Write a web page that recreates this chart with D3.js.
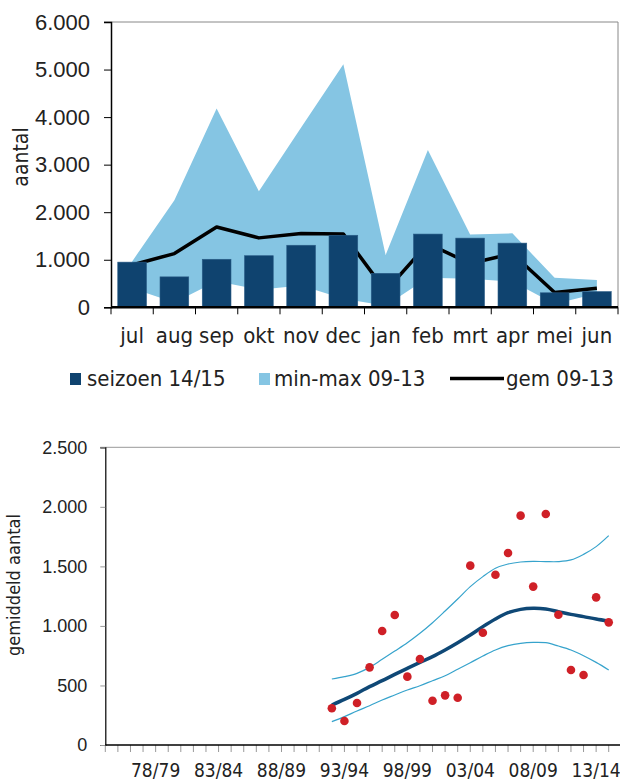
<!DOCTYPE html>
<html>
<head>
<meta charset="utf-8">
<script src="https://cdn.jsdelivr.net/npm/d3@7"></script>
<style>
  html, body { margin: 0; padding: 0; background: #fff; }
  svg { display: block; font-family: 'DejaVu Sans Condensed', 'DejaVu Sans', sans-serif; font-stretch: condensed; }
</style>
</head>
<body>
<svg id="chart" width="620" height="780"></svg>
<script>
(function () {
  'use strict';

  // --- top chart: monthly counts ---
  const MONTHS = ['jul', 'aug', 'sep', 'okt', 'nov', 'dec', 'jan', 'feb', 'mrt', 'apr', 'mei', 'jun'];
  const SEIZOEN_1415 = [950, 640, 1010, 1085, 1305, 1515, 715, 1540, 1455, 1350, 305, 330];
  const MIN_0913 = [400, 100, 550, 370, 460, 180, 30, 620, 600, 540, 70, 290];
  const MAX_0913 = [965, 2250, 4180, 2440, 3780, 5110, 1100, 3310, 1530, 1555, 620, 575];
  const GEM_0913 = [890, 1130, 1690, 1460, 1550, 1540, 340, 1340, 920, 1130, 310, 400];
  const TOP_TICKS = [0, 1000, 2000, 3000, 4000, 5000, 6000];

  // --- bottom chart: season averages + trend ---
  const AXIS_SEASONS = ['74/75', '75/76', '76/77', '77/78', '78/79', '79/80', '80/81', '81/82', '82/83', '83/84',
    '84/85', '85/86', '86/87', '87/88', '88/89', '89/90', '90/91', '91/92', '92/93', '93/94', '94/95', '95/96',
    '96/97', '97/98', '98/99', '99/00', '00/01', '01/02', '02/03', '03/04', '04/05', '05/06', '06/07', '07/08',
    '08/09', '09/10', '10/11', '11/12', '12/13', '13/14', '14/15', '15/16'];
  const AXIS_LABELS = ['78/79', '83/84', '88/89', '93/94', '98/99', '03/04', '08/09', '13/14'];
  const DATA_SEASONS = ['92/93', '93/94', '94/95', '95/96', '96/97', '97/98', '98/99', '99/00', '00/01', '01/02',
    '02/03', '03/04', '04/05', '05/06', '06/07', '07/08', '08/09', '09/10', '10/11', '11/12', '12/13', '13/14', '14/15'];
  const GEMIDDELD = [308, 202, 353, 652, 957, 1092, 574, 722, 372, 417, 397, 1506, 943, 1430, 1612, 1926, 1330,
    1940, 1094, 630, 588, 1240, 1030];
  const TREND = [336, 383, 434, 490, 540, 593, 644, 694, 742, 798, 859, 924, 994, 1058, 1111, 1139, 1148, 1142,
    1120, 1097, 1078, 1058, 1041];
  const UPPER = [554, 574, 602, 652, 720, 789, 859, 938, 1027, 1125, 1226, 1330, 1414, 1484, 1520, 1537, 1542,
    1540, 1540, 1554, 1601, 1666, 1758];
  const LOWER = [196, 238, 286, 330, 378, 420, 462, 498, 540, 582, 636, 691, 747, 798, 834, 854, 862, 859, 831,
    798, 750, 694, 630];
  const BOTTOM_TICKS = [0, 500, 1000, 1500, 2000, 2500];

  const DARK = '#0f436f';
  const LIGHT = '#85c5e3';
  const TEXT = '#222';
  const fmt = d3.formatLocale({ decimal: ',', thousands: '.', grouping: [3], currency: ['', ''] }).format(',d');

  const svg = d3.select('#chart');

  // ================= top chart =================
  const t = { left: 111, right: 618, top: 22, bottom: 307.3 };
  const x1 = d3.scaleBand().domain(MONTHS).range([t.left, t.right]).padding(0);
  const y1 = d3.scaleLinear().domain([0, 6000]).range([t.bottom, t.top]);
  const cx = (m) => x1(m) + x1.bandwidth() / 2;
  const g1 = svg.append('g');

  // frame (top + right in gray)
  g1.append('line').attr('x1', t.left - 7).attr('x2', t.right).attr('y1', t.top).attr('y2', t.top)
    .attr('stroke', '#888').attr('stroke-width', 1);
  g1.append('line').attr('x1', t.right).attr('x2', t.right).attr('y1', t.top).attr('y2', t.bottom)
    .attr('stroke', '#888').attr('stroke-width', 1);

  const minmax = MONTHS.map((m, i) => ({ m, lo: MIN_0913[i], hi: MAX_0913[i] }));
  g1.append('path')
    .datum(minmax)
    .attr('fill', LIGHT)
    .attr('d', d3.area().x(d => cx(d.m)).y0(d => y1(d.lo)).y1(d => y1(d.hi)));

  g1.append('path')
    .datum(MONTHS.map((m, i) => ({ m, v: GEM_0913[i] })))
    .attr('fill', 'none').attr('stroke', '#000').attr('stroke-width', 3.5)
    .attr('stroke-linejoin', 'round')
    .attr('d', d3.line().x(d => cx(d.m)).y(d => y1(d.v)));

  const barW = x1.bandwidth() * 0.68;
  g1.selectAll('rect.bar')
    .data(MONTHS.map((m, i) => ({ m, v: SEIZOEN_1415[i] })))
    .join('rect')
    .attr('class', 'bar')
    .attr('x', d => cx(d.m) - barW / 2)
    .attr('width', barW)
    .attr('y', d => y1(d.v))
    .attr('height', d => y1(0) - y1(d.v))
    .attr('fill', DARK)
    .attr('stroke', '#2a5c86').attr('stroke-width', 0.6);

  // y axis
  const ay1 = g1.append('g').attr('transform', `translate(${t.left},0)`)
    .call(d3.axisLeft(y1).tickValues(TOP_TICKS).tickSize(7).tickPadding(14).tickFormat(fmt));
  ay1.select('.domain').attr('stroke', '#000').attr('stroke-width', 1.5);
  ay1.selectAll('.tick line').attr('stroke', '#000');
  ay1.selectAll('text').attr('font-size', 22).attr('fill', TEXT).attr('font-family', null);

  // x axis: ticks at category boundaries
  const ax1 = g1.append('g').attr('transform', `translate(0,${t.bottom})`);
  ax1.append('line').attr('x1', t.left).attr('x2', t.right).attr('stroke', '#000').attr('stroke-width', 2.5);
  ax1.selectAll('line.tk')
    .data(MONTHS.concat(['end']))
    .join('line')
    .attr('class', 'tk')
    .attr('x1', (d, i) => i < MONTHS.length ? x1(d) : t.right)
    .attr('x2', (d, i) => i < MONTHS.length ? x1(d) : t.right)
    .attr('y1', 0).attr('y2', 7)
    .attr('stroke', '#000').attr('stroke-width', 1);
  ax1.selectAll('text')
    .data(MONTHS)
    .join('text')
    .attr('x', d => cx(d)).attr('y', 36)
    .attr('text-anchor', 'middle')
    .attr('font-size', 22).attr('fill', TEXT)
    .text(d => d);

  g1.append('text')
    .attr('transform', 'translate(28,157) rotate(-90)')
    .attr('text-anchor', 'middle')
    .attr('font-size', 21).attr('fill', TEXT)
    .text('aantal');

  // legend
  const lg = svg.append('g');
  lg.append('rect').attr('x', 70).attr('y', 373).attr('width', 11).attr('height', 12).attr('fill', DARK);
  lg.append('text').attr('x', 87).attr('y', 386).attr('font-size', 22).attr('fill', TEXT).text('seizoen 14/15');
  lg.append('rect').attr('x', 259).attr('y', 373).attr('width', 11).attr('height', 12).attr('fill', LIGHT);
  lg.append('text').attr('x', 274).attr('y', 386).attr('font-size', 22).attr('fill', TEXT).text('min-max 09-13');
  lg.append('line').attr('x1', 450).attr('x2', 504).attr('y1', 378.5).attr('y2', 378.5)
    .attr('stroke', '#000').attr('stroke-width', 3.5);
  lg.append('text').attr('x', 506).attr('y', 386).attr('font-size', 22).attr('fill', TEXT).text('gem 09-13');

  // ================= bottom chart =================
  const b = { left: 105.3, right: 621.3, top: 447.3, bottom: 745 };
  const x2 = d3.scalePoint().domain(AXIS_SEASONS).range([b.left, b.right]);
  const y2 = d3.scaleLinear().domain([0, 2500]).range([b.bottom, b.top]);
  const g2 = svg.append('g');

  g2.append('line').attr('x1', b.left - 5).attr('x2', 620).attr('y1', b.top).attr('y2', b.top)
    .attr('stroke', '#999').attr('stroke-width', 1);

  const ay2 = g2.append('g').attr('transform', `translate(${b.left},0)`)
    .call(d3.axisLeft(y2).tickValues(BOTTOM_TICKS).tickSize(5).tickPadding(13).tickFormat(fmt));
  ay2.select('.domain').attr('stroke', '#000').attr('stroke-width', 1.2);
  ay2.selectAll('.tick line').attr('stroke', '#999');
  ay2.selectAll('text').attr('font-size', 18).attr('fill', TEXT).attr('font-family', null);

  const ax2 = g2.append('g').attr('transform', `translate(0,${b.bottom})`);
  ax2.selectAll('line.tk')
    .data(AXIS_SEASONS.slice(0, AXIS_SEASONS.length - 1))
    .join('line')
    .attr('class', 'tk')
    .attr('x1', d => x2(d)).attr('x2', d => x2(d))
    .attr('y1', 0).attr('y2', 7)
    .attr('stroke', '#999').attr('stroke-width', 1);
  ax2.append('line').attr('x1', b.left).attr('x2', 620).attr('stroke', '#000').attr('stroke-width', 1.5);
  ax2.selectAll('text')
    .data(AXIS_LABELS)
    .join('text')
    .attr('x', d => x2(d)).attr('y', 31.5)
    .attr('text-anchor', 'middle')
    .attr('font-size', 19).attr('fill', TEXT)
    .text(d => d);

  g2.append('text')
    .attr('transform', 'translate(20,585) rotate(-90)')
    .attr('text-anchor', 'middle')
    .attr('font-size', 18).attr('fill', TEXT)
    .text('gemiddeld aantal');

  const curve = d3.line().curve(d3.curveCatmullRom.alpha(0.5))
    .x((d, i) => x2(DATA_SEASONS[i])).y(d => y2(d));

  [UPPER, LOWER].forEach(series => {
    g2.append('path').datum(series)
      .attr('fill', 'none').attr('stroke', '#36a3cc').attr('stroke-width', 1.2)
      .attr('d', curve);
  });
  g2.append('path').datum(TREND)
    .attr('fill', 'none').attr('stroke', '#0f4876').attr('stroke-width', 3.5)
    .attr('d', curve);

  g2.selectAll('circle.pt')
    .data(GEMIDDELD)
    .join('circle')
    .attr('class', 'pt')
    .attr('cx', (d, i) => x2(DATA_SEASONS[i]))
    .attr('cy', d => y2(d))
    .attr('r', 4.3)
    .attr('fill', '#cf2027');
})();
</script>
</body>
</html>
